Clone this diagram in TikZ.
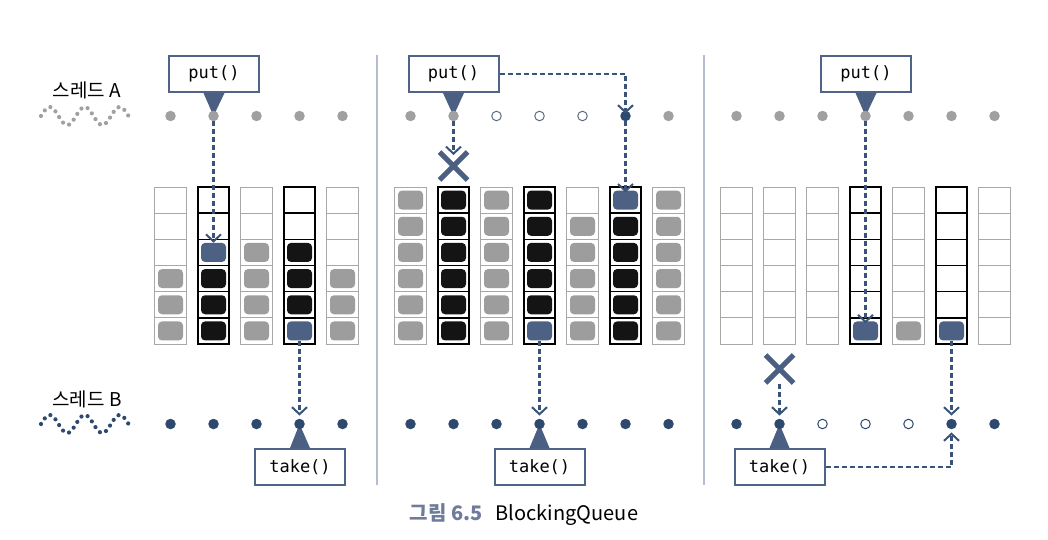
\documentclass[tikz,border=0pt]{standalone}
\usepackage{fontspec}
\setmainfont{Noto Sans CJK KR}
\newfontfamily\monofont{DejaVu Sans Mono}
\usetikzlibrary{arrows.meta,shapes.misc}
\definecolor{dotgray}{HTML}{A0A0A0}
\definecolor{dotblue}{HTML}{2D4A6E}
\definecolor{boxblue}{HTML}{50648A}
\definecolor{triblue}{HTML}{4B5F82}
\definecolor{arrowblue}{HTML}{3A5479}
\definecolor{cellgray}{HTML}{A8A8A8}
\definecolor{sepcol}{HTML}{B5BDCF}
\definecolor{opengray}{HTML}{5E6C84}
\definecolor{capblue}{HTML}{6E7B9A}
\definecolor{cE}{HTML}{FFFFFF}
\definecolor{cG}{HTML}{9D9D9D}
\definecolor{cK}{HTML}{141414}
\definecolor{cB}{HTML}{4D6185}
\newcommand\qcolumn[5]{%
  \foreach \tk [count=\rw] in {#5} {
    \node[cell#4] (#1-#2-\rw) at (#3, {187+26.17*(\rw-0.5)}) {};
    \node[blk, fill=c\tk] (b#1-#2-\rw) at (#1-#2-\rw.center) {};
  }%
}
\begin{document}
\begin{tikzpicture}[x=1pt,y=-1pt,
  cellL/.style={draw=cellgray, line width=1pt, fill=white, minimum width=31.5pt, minimum height=26.17pt, inner sep=0pt},
  cellD/.style={draw=black, line width=1.6pt, fill=white, minimum width=31.5pt, minimum height=26.17pt, inner sep=0pt},
  blk/.style={rounded corners=4pt, minimum width=25pt, minimum height=19pt, inner sep=0pt},
  dotA/.style={circle, fill=dotgray, minimum size=10.5pt, inner sep=0pt},
  dotB/.style={circle, fill=dotblue, minimum size=10.5pt, inner sep=0pt},
  openA/.style={circle, draw=opengray, fill=white, line width=1pt, minimum size=9.5pt, inner sep=0pt},
  openB/.style={circle, draw=dotblue, fill=white, line width=1pt, minimum size=9.5pt, inner sep=0pt},
  callbox/.style={draw=boxblue, line width=2pt, fill=white, minimum width=90pt, minimum height=36pt, inner sep=0pt, font=\monofont\fontsize{17}{19}\selectfont},
  tri/.style={fill=triblue},
  flow/.style={draw=arrowblue, line width=2.3pt, dash pattern=on 5pt off 3pt, -{Straight Barb[length=7pt,width=15pt,line width=2pt]}},
  xmark/.style={cross out, draw=triblue, line width=5pt, minimum size=23pt, inner sep=0pt},
  sep/.style={draw=sepcol, line width=1.3pt},
  lbl/.style={font=\fontsize{19}{22}\selectfont},
  waveA/.style={draw=dotgray, line width=4.2pt, line cap=round, dash pattern=on 0pt off 6.8pt},
  waveB/.style={draw=dotblue, line width=4.2pt, line cap=round, dash pattern=on 0pt off 6.8pt}
]
\useasboundingbox (0,0) rectangle (1048,540);

% separators
\coordinate (s1t) at (377,55); \coordinate (s1b) at (377,485);
\coordinate (s2t) at (704,55); \coordinate (s2b) at (704,485);
\draw[sep] (s1t) -- (s1b);
\draw[sep] (s2t) -- (s2b);

% thread labels and waves
\node[lbl] (la) at (87,90) {스레드 A};
\node[lbl] (lb) at (87,399) {스레드 B};
\draw[waveA] plot[domain=0:87.5, samples=80, smooth] ({41+\x},{116-9*sin(\x/35*360)});
\draw[waveB] plot[domain=0:87.5, samples=80, smooth] ({41+\x},{424-9*sin(\x/35*360)});

% ---------- panel 1 ----------
\qcolumn{a}{1}{170.5}{L}{E,E,E,G,G,G}
\qcolumn{a}{2}{213.5}{D}{E,E,B,K,K,K}
\qcolumn{a}{3}{256.5}{L}{E,E,G,G,G,G}
\qcolumn{a}{4}{299.5}{D}{E,E,K,K,K,B}
\qcolumn{a}{5}{342.5}{L}{E,E,E,G,G,G}

\node[callbox] (puta) at (214,74) {put()};
\node[callbox] (takea) at (300,467) {take()};
\foreach \i in {1,...,5} {
  \coordinate (tpa-\i) at ({170.5+43*(\i-1)},116);
  \coordinate (upa-\i) at ({170.5+43*(\i-1)},424);
}
\fill[tri] ([xshift=-10.5pt]puta.south) -- ([xshift=10.5pt]puta.south) -- (tpa-2) -- cycle;
\fill[tri] ([xshift=-10pt]takea.north) -- ([xshift=10pt]takea.north) -- (upa-4) -- cycle;
\foreach \i in {1,...,5} {
  \node[dotA] (ta-\i) at (tpa-\i) {};
  \node[dotB] (ua-\i) at (upa-\i) {};
}
\draw[flow] (ta-2.south) -- (ba-2-3.north);
\draw[flow] (ba-4-6.south) -- ([yshift=3pt]ua-4.north);

% ---------- panel 2 ----------
\qcolumn{b}{1}{410.5}{L}{G,G,G,G,G,G}
\qcolumn{b}{2}{453.5}{D}{K,K,K,K,K,K}
\qcolumn{b}{3}{496.5}{L}{G,G,G,G,G,G}
\qcolumn{b}{4}{539.5}{D}{K,K,K,K,K,B}
\qcolumn{b}{5}{582.5}{L}{E,G,G,G,G,G}
\qcolumn{b}{6}{625.5}{D}{B,K,K,K,K,K}
\qcolumn{b}{7}{668.5}{L}{G,G,G,G,G,G}

\node[callbox] (putb) at (453.5,74) {put()};
\node[callbox] (takeb) at (539.5,467) {take()};
\foreach \i in {1,...,7} {
  \coordinate (tpb-\i) at ({410.5+43*(\i-1)},116);
  \coordinate (upb-\i) at ({410.5+43*(\i-1)},424);
}
\fill[tri] ([xshift=-10.5pt]putb.south) -- ([xshift=10.5pt]putb.south) -- (tpb-2) -- cycle;
\fill[tri] ([xshift=-10pt]takeb.north) -- ([xshift=10pt]takeb.north) -- (upb-4) -- cycle;
\foreach \i/\s in {1/dotA,2/dotA,3/openA,4/openA,5/openA,6/dotB,7/dotA} {
  \node[\s] (tb-\i) at (tpb-\i) {};
}
\foreach \i in {1,...,7} {
  \node[dotB] (ub-\i) at (upb-\i) {};
}
\node[xmark] (xb) at (453.5,166) {};
\draw[flow] (tb-2.south) -- ([yshift=-3pt]xb.north);
\draw[flow] (putb.east) -| ([yshift=-3pt]tb-6.north);
\draw[flow] (tb-6.south) -- ([yshift=-2pt]bb-6-1.north);
\draw[flow] (bb-4-6.south) -- ([yshift=3pt]ub-4.north);

% ---------- panel 3 ----------
\qcolumn{c}{1}{736.5}{L}{E,E,E,E,E,E}
\qcolumn{c}{2}{779.5}{L}{E,E,E,E,E,E}
\qcolumn{c}{3}{822.5}{L}{E,E,E,E,E,E}
\qcolumn{c}{4}{865.5}{D}{E,E,E,E,E,B}
\qcolumn{c}{5}{908.5}{L}{E,E,E,E,E,G}
\qcolumn{c}{6}{951.5}{D}{E,E,E,E,E,B}
\qcolumn{c}{7}{994.5}{L}{E,E,E,E,E,E}

\node[callbox] (putc) at (866,74) {put()};
\node[callbox] (takec) at (779.5,467) {take()};
\foreach \i in {1,...,7} {
  \coordinate (tpc-\i) at ({736.5+43*(\i-1)},116);
  \coordinate (upc-\i) at ({736.5+43*(\i-1)},424);
}
\fill[tri] ([xshift=-10.5pt]putc.south) -- ([xshift=10.5pt]putc.south) -- (tpc-4) -- cycle;
\fill[tri] ([xshift=-10pt]takec.north) -- ([xshift=10pt]takec.north) -- (upc-2) -- cycle;
\foreach \i in {1,...,7} {
  \node[dotA] (tc-\i) at (tpc-\i) {};
}
\foreach \i/\s in {1/dotB,2/dotB,3/openB,4/openB,5/openB,6/dotB,7/dotB} {
  \node[\s] (uc-\i) at (upc-\i) {};
}
\node[xmark] (xc) at (779.5,369) {};
\draw[flow] (tc-4.south) -- ([yshift=-2pt]bc-4-6.north);
\draw[flow] ([yshift=-1pt]xc.south) -- ([yshift=3pt]uc-2.north);
\draw[flow] (bc-6-6.south) -- ([yshift=3pt]uc-6.north);
\draw[flow] (takec.east) -| ([yshift=-3pt]uc-6.south);

% caption
\node[font=\fontsize{20}{23}\selectfont] (cap) at (524,515) {{\bfseries\color{capblue}그림 6.5}\hspace{13pt}BlockingQueue};
\end{tikzpicture}
\end{document}
